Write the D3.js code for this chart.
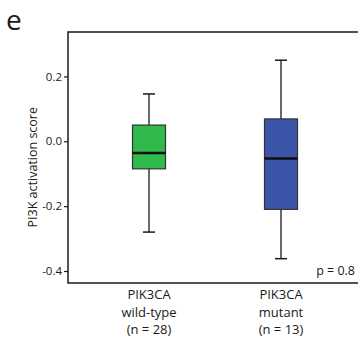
<!DOCTYPE html>
<html>
<head>
<meta charset="utf-8">
<script src="https://cdn.jsdelivr.net/npm/d3@7"></script>
<style>
  body { margin: 0; background: #fff; }
  text { font-family: "Open Sans", "Liberation Sans", sans-serif; fill: #1a1a1a; }
</style>
</head>
<body>
<div id="chart"></div>
<script>
// Groups and box statistics
const groups = ['wt', 'mut'];
const groupLabels = [['PIK3CA', 'wild-type', '(n = 28)'], ['PIK3CA', 'mutant', '(n = 13)']];
const whiskerLow = [-0.28, -0.362];
const q1 = [-0.085, -0.21];
const median = [-0.036, -0.053];
const q3 = [0.05, 0.069];
const whiskerHigh = [0.146, 0.25];
const colors = ['#2fba4b', '#3b55a8'];
const yTicks = [0.2, 0.0, -0.2, -0.4];

const width = 358, height = 339;
const margin = { top: 32, bottom: 56, left: 68 };

const svg = d3.select('#chart').append('svg')
  .attr('width', width)
  .attr('height', height);

const x = d3.scalePoint()
  .domain(groups)
  .range([149, 281]);

const y = d3.scaleLinear()
  .domain([-0.437, 0.337])
  .range([height - margin.bottom, margin.top]);

// Frame: left, top and bottom lines (right side runs off the panel)
svg.append('path')
  .attr('d', `M${width + 5},${margin.top}H${margin.left}V${height - margin.bottom}H${width + 5}`)
  .attr('fill', 'none')
  .attr('stroke', '#1a1a1a')
  .attr('stroke-width', 1.5);

const yAxis = svg.append('g')
  .attr('transform', `translate(${margin.left},0)`)
  .call(d3.axisLeft(y).tickValues(yTicks).tickSize(4)
    .tickFormat(d => d3.format('.1f')(d).replace('−', '-')));
yAxis.select('.domain').remove();
yAxis.selectAll('line').attr('stroke', '#1a1a1a').attr('stroke-width', 1.2);
yAxis.selectAll('text')
  .attr('x', -6)
  .attr('font-size', 11.5)
  .attr('fill', '#1a1a1a')
  .style('font-family', '"Open Sans", sans-serif');

svg.append('text')
  .attr('transform', `translate(37,${y(-0.08)}) rotate(-90)`)
  .attr('text-anchor', 'middle')
  .attr('font-size', 12.5)
  .text('PI3K activation score');

const boxW = 33;
const g = svg.append('g').selectAll('g')
  .data(groups)
  .join('g')
  .attr('transform', d => `translate(${x(d)},0)`);

// whisker stem
g.append('line')
  .attr('y1', (d, i) => y(whiskerLow[i]))
  .attr('y2', (d, i) => y(whiskerHigh[i]))
  .attr('stroke', '#1a1a1a')
  .attr('stroke-width', 1.3);

// whisker caps
g.selectAll('.cap')
  .data((d, i) => [whiskerLow[i], whiskerHigh[i]])
  .join('line')
  .attr('class', 'cap')
  .attr('x1', -6).attr('x2', 6)
  .attr('y1', v => y(v)).attr('y2', v => y(v))
  .attr('stroke', '#1a1a1a')
  .attr('stroke-width', 1.5);

g.append('rect')
  .attr('x', -boxW / 2)
  .attr('width', boxW)
  .attr('y', (d, i) => y(q3[i]))
  .attr('height', (d, i) => y(q1[i]) - y(q3[i]))
  .attr('fill', (d, i) => colors[i])
  .attr('stroke', '#333')
  .attr('stroke-width', 1.2);

g.append('line')
  .attr('x1', -boxW / 2).attr('x2', boxW / 2)
  .attr('y1', (d, i) => y(median[i]))
  .attr('y2', (d, i) => y(median[i]))
  .attr('stroke', '#111')
  .attr('stroke-width', 2.5);

// category labels
g.append('text')
  .attr('text-anchor', 'middle')
  .attr('font-size', 13)
  .selectAll('tspan')
  .data((d, i) => groupLabels[i])
  .join('tspan')
  .attr('x', 0)
  .attr('y', (d, j) => height - margin.bottom + 16 + j * 17.5)
  .text(d => d);

svg.append('text')
  .attr('x', 355)
  .attr('y', y(-0.4) + 4)
  .attr('text-anchor', 'end')
  .attr('font-size', 12.5)
  .text('p = 0.8');

svg.append('text')
  .attr('x', 6)
  .attr('y', 30)
  .attr('font-size', 28)
  .text('e');
</script>
</body>
</html>
